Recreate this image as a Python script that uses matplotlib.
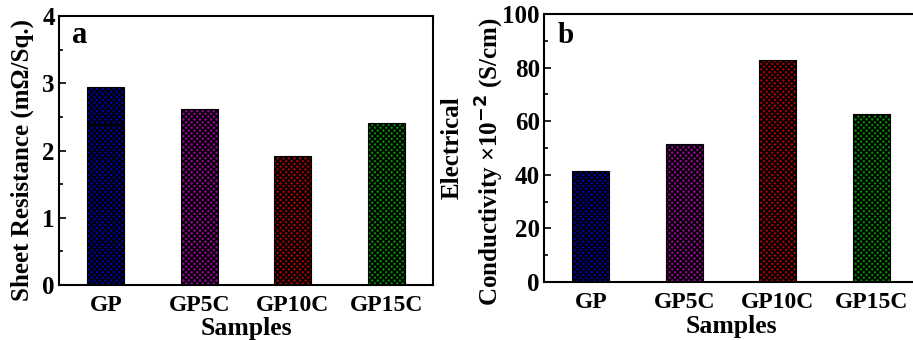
import matplotlib.pyplot as plt
import numpy as np

samples = ["GP", "GP5C", "GP10C", "GP15C"]
sheet_resistance = [2.94, 2.62, 1.92, 2.41]
gp_split = 2.38  # seam inside the GP bar
conductivity = [41.6, 51.4, 82.9, 62.8]
bar_colors = ["#0000b4", "#9a009a", "#a80000", "#008c00"]

plt.rcParams["font.family"] = ["Liberation Serif", "DejaVu Serif"]
plt.rcParams["font.weight"] = "bold"
plt.rcParams["mathtext.default"] = "bf"
plt.rcParams["hatch.linewidth"] = 1.2

fig = plt.figure(figsize=(9.13, 3.4), dpi=100)
W, H = 913, 340
ax1 = fig.add_axes([59 / W, 1 - 285 / H, 374 / W, 269 / H])
ax2 = fig.add_axes([544 / W, 1 - 282 / H, 374 / W, 268 / H])

x = np.arange(len(samples))


def draw_bars(ax, vals):
    for xi, v, c in zip(x, vals, bar_colors):
        ax.bar(xi, v, width=0.4, color=c, edgecolor="black", hatch="xxxxxx",
               linewidth=0.8, zorder=2)


draw_bars(ax1, sheet_resistance)
ax1.hlines(gp_split, x[0] - 0.2, x[0] + 0.2, color="black", linewidth=1.2, zorder=3)
draw_bars(ax2, conductivity)

for ax in (ax1, ax2):
    ax.set_xlim(-0.5, 3.5)
    ax.set_xticks(x)
    ax.set_xticklabels(samples, fontsize=17, fontweight="bold")
    ax.tick_params(axis="x", length=0, pad=7)
    ax.tick_params(axis="y", which="both", direction="in", labelsize=18, pad=3)
    ax.tick_params(axis="y", which="major", length=5, width=1.2)
    ax.tick_params(axis="y", which="minor", length=3, width=1.2)
    for s in ax.spines.values():
        s.set_linewidth(1.5)
    ax.set_xlabel("Samples", fontsize=18.5, fontweight="bold")

ax1.set_ylim(0, 4)
ax1.set_yticks([0, 1, 2, 3, 4])
ax1.set_yticks(np.arange(0.5, 4, 1), minor=True)
ax1.set_ylabel("Sheet Resistance (m\u03a9/Sq.)", fontsize=18, fontweight="bold")
ax1.yaxis.set_label_coords(-0.068, 0.465)
ax1.xaxis.set_label_coords(0.5, -0.12)
ax1.text(0.035, 0.90, "a", transform=ax1.transAxes, fontsize=22, fontweight="bold",
         va="baseline", ha="left")

ax2.set_ylim(0, 100)
ax2.set_yticks(np.arange(0, 101, 20))
ax2.set_yticks(np.arange(10, 100, 20), minor=True)
# two-line y label, each line placed on its own
ax2.text(-0.245, 0.5, "Electrical", transform=ax2.transAxes, rotation=90,
         ha="center", va="center", fontsize=18, fontweight="bold")
ax2.text(-0.144, 0.451, "Conductivity \u00d710$^{-2}$ (S/cm)", transform=ax2.transAxes,
         rotation=90, ha="center", va="center", fontsize=18, fontweight="bold")
ax2.xaxis.set_label_coords(0.5, -0.125)
ax2.text(0.037, 0.892, "b", transform=ax2.transAxes, fontsize=21, fontweight="bold",
         va="baseline", ha="left")

for ax in (ax1, ax2):
    for lbl in ax.get_yticklabels():
        lbl.set_fontweight("bold")

fig.savefig("out.png", dpi=100)
